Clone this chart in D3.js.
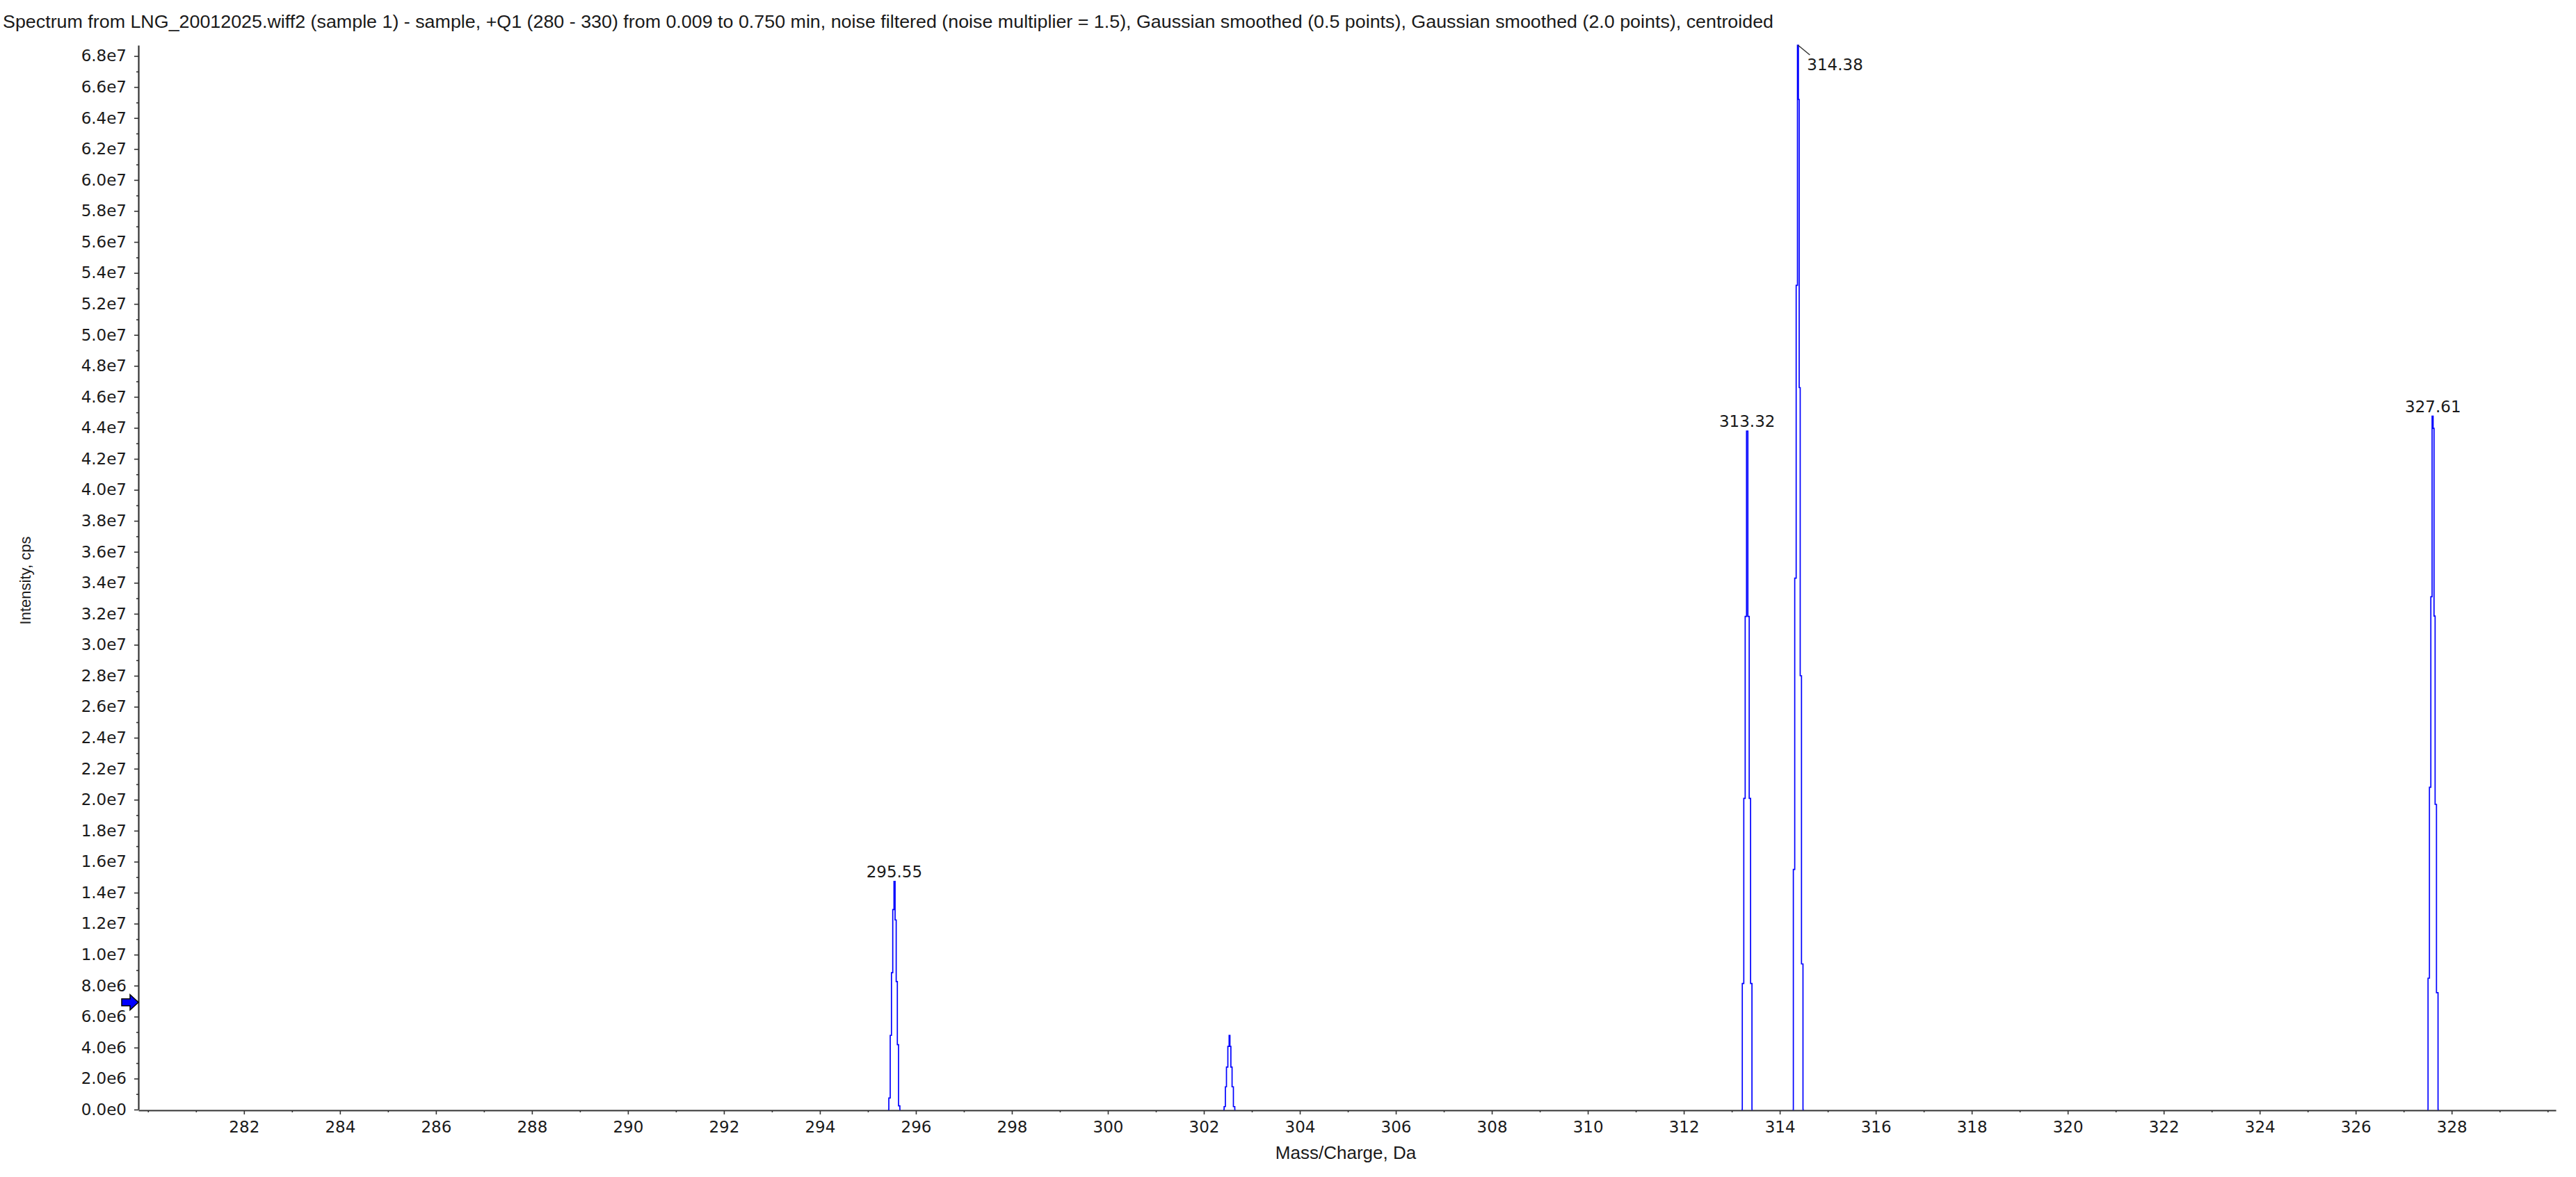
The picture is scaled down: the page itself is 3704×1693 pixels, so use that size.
<!DOCTYPE html>
<html>
<head>
<meta charset="utf-8">
<script src="https://cdn.jsdelivr.net/npm/d3@7"></script>
<style>
body { margin: 0; background: #fff; }
svg { display: block; background: #fff; }
text { fill: #1a1a1a; }
.tick text { font-family: "DejaVu Sans", sans-serif; font-size: 23px; }
.plain { font-family: "Liberation Sans", Arial, sans-serif; }
</style>
</head>
<body>
<svg id="chart"></svg>
<script>
const w = 3704;
const h = 1693;

const titleText = "Spectrum from LNG_20012025.wiff2 (sample 1) - sample, +Q1 (280 - 330) from 0.009 to 0.750 min, noise filtered (noise multiplier = 1.5), Gaussian smoothed (0.5 points), Gaussian smoothed (2.0 points), centroided";
const xTitle = "Mass/Charge, Da";
const yTitle = "Intensity, cps";

// axis ranges / ticks
const mzRange = [279.8, 330.17];
const maxIntensity = 68.7e6;
const xTicks = [282, 284, 286, 288, 290, 292, 294, 296, 298, 300, 302, 304, 306, 308, 310, 312, 314, 316, 318, 320, 322, 324, 326, 328];
const yTicks = [0, 2e6, 4e6, 6e6, 8e6, 10e6, 12e6, 14e6, 16e6, 18e6, 20e6, 22e6, 24e6, 26e6, 28e6, 30e6, 32e6, 34e6, 36e6, 38e6, 40e6, 42e6, 44e6, 46e6, 48e6, 50e6, 52e6, 54e6, 56e6, 58e6, 60e6, 62e6, 64e6, 66e6, 68e6];

// spectrum points [m/z, cps]
const peak295 = [[295.420, 0], [295.452, 0.75e6], [295.478, 4.79e6], [295.504, 8.83e6], [295.532, 12.91e6], [295.555, 14.73e6], [295.578, 12.24e6], [295.601, 8.26e6], [295.626, 4.19e6], [295.651, 0.24e6], [295.681, 0]];
const peak302 = [[302.406, 0], [302.438, 0.19e6], [302.459, 1.47e6], [302.483, 2.74e6], [302.517, 4.08e6], [302.536, 4.79e6], [302.551, 4.08e6], [302.575, 2.74e6], [302.601, 1.47e6], [302.630, 0.19e6], [302.659, 0]];
const peak313 = [[313.203, 0], [313.235, 8.14e6], [313.265, 20.09e6], [313.293, 31.83e6], [313.322, 43.79e6], [313.349, 31.83e6], [313.377, 20.09e6], [313.406, 8.14e6], [313.435, 0]];
const peak314 = [[314.268, 0], [314.297, 15.5e6], [314.326, 34.3e6], [314.357, 53.2e6], [314.380, 68.7e6], [314.396, 65.2e6], [314.413, 46.6e6], [314.438, 28.0e6], [314.467, 9.4e6], [314.500, 0]];
const peak327 = [[327.493, 0], [327.522, 8.48e6], [327.551, 20.8e6], [327.580, 33.1e6], [327.604, 44.76e6], [327.622, 43.97e6], [327.642, 31.85e6], [327.667, 19.7e6], [327.699, 7.54e6], [327.732, 0]];

const labelMz = [295.55, 313.32, 314.38, 327.61];
const thresholdLevel = 6.92e6;

const peaks = [peak295, peak302, peak313, peak314, peak327];

const svg = d3.select('#chart').attr('width', w).attr('height', h);

const xScale = d3.scaleLinear().domain(mzRange).range([199, 3675]);
const yScale = d3.scaleLinear().domain([0, maxIntensity]).range([1596, 65]);
const plotTop = yScale.range()[1];

const sciFmt = d => d3.format('.1e')(d).replace('e+', 'e');

// title
svg.append('text')
  .attr('class', 'plain')
  .attr('x', 4).attr('y', 40)
  .attr('font-size', 25)
  .attr('textLength', 2546)
  .attr('lengthAdjust', 'spacingAndGlyphs')
  .text(titleText);

// minor ticks
svg.append('g')
  .attr('transform', `translate(0,${yScale(0) + 1})`)
  .call(d3.axisBottom(xScale).tickValues(d3.range(280, 331).filter(v => !xTicks.includes(v))).tickSize(3).tickFormat(''))
  .call(g => g.select('.domain').remove());
svg.append('g')
  .attr('transform', `translate(${xScale.range()[0]},0)`)
  .call(d3.axisLeft(yScale).tickValues(d3.range(1e6, 69e6, 2e6)).tickSize(3).tickFormat(''))
  .call(g => g.select('.domain').remove());

// main axes
const xAxis = svg.append('g')
  .attr('transform', `translate(0,${yScale(0) + 1})`)
  .call(d3.axisBottom(xScale).tickValues(xTicks).tickSize(6).tickSizeOuter(0).tickPadding(10).tickFormat(d3.format('d')));
const yAxis = svg.append('g')
  .attr('transform', `translate(${xScale.range()[0]},0)`)
  .call(d3.axisLeft(yScale).tickValues(yTicks).tickSize(6).tickSizeOuter(0).tickPadding(11).tickFormat(sciFmt));

svg.selectAll('.domain').attr('stroke', '#333').attr('stroke-width', 2.2);
svg.selectAll('.tick line').attr('stroke', '#333').attr('stroke-width', 1.6);

// spectrum
const line = d3.line()
  .x(d => xScale(d[0]))
  .y(d => yScale(d[1]))
  .curve(d3.curveStep);

svg.append('g').selectAll('path')
  .data(peaks)
  .join('path')
  .attr('d', line)
  .attr('fill', 'none')
  .attr('stroke', '#0000ff')
  .attr('stroke-width', 1.7);

// peak labels
labelMz.forEach(mz => {
  const pk = peaks.find(p => p[0][0] <= mz && p[p.length - 1][0] >= mz);
  const top = d3.max(pk, d => d[1]);
  const px = xScale(mz);
  const py = yScale(top);
  if (py - 24 < plotTop) {
    svg.append('line')
      .attr('x1', px).attr('y1', py)
      .attr('x2', px + 17).attr('y2', py + 14)
      .attr('stroke', '#333').attr('stroke-width', 1.5);
    svg.append('text')
      .attr('x', px + 13).attr('y', py + 36)
      .attr('font-family', '"DejaVu Sans", sans-serif')
      .attr('font-size', 23)
      .text(mz.toFixed(2));
  } else {
    svg.append('text')
      .attr('x', px).attr('y', py - 6)
      .attr('text-anchor', 'middle')
      .attr('font-family', '"DejaVu Sans", sans-serif')
      .attr('font-size', 23)
      .text(mz.toFixed(2));
  }
});

// threshold arrow on the y axis
svg.append('path')
  .attr('transform', `translate(${xScale.range()[0]},${yScale(thresholdLevel)})`)
  .attr('d', 'M-24,-5 L-12,-5 L-12,-11 L0,0 L-12,11 L-12,5 L-24,5 Z')
  .attr('fill', '#0000ff')
  .attr('stroke', '#000')
  .attr('stroke-width', 1.5);

// axis titles
svg.append('text')
  .attr('class', 'plain')
  .attr('x', 1935).attr('y', 1667)
  .attr('text-anchor', 'middle')
  .attr('font-size', 26)
  .text(xTitle);

svg.append('text')
  .attr('class', 'plain')
  .attr('transform', 'translate(44,835) rotate(-90)')
  .attr('text-anchor', 'middle')
  .attr('font-size', 22)
  .text(yTitle);
</script>
</body>
</html>
